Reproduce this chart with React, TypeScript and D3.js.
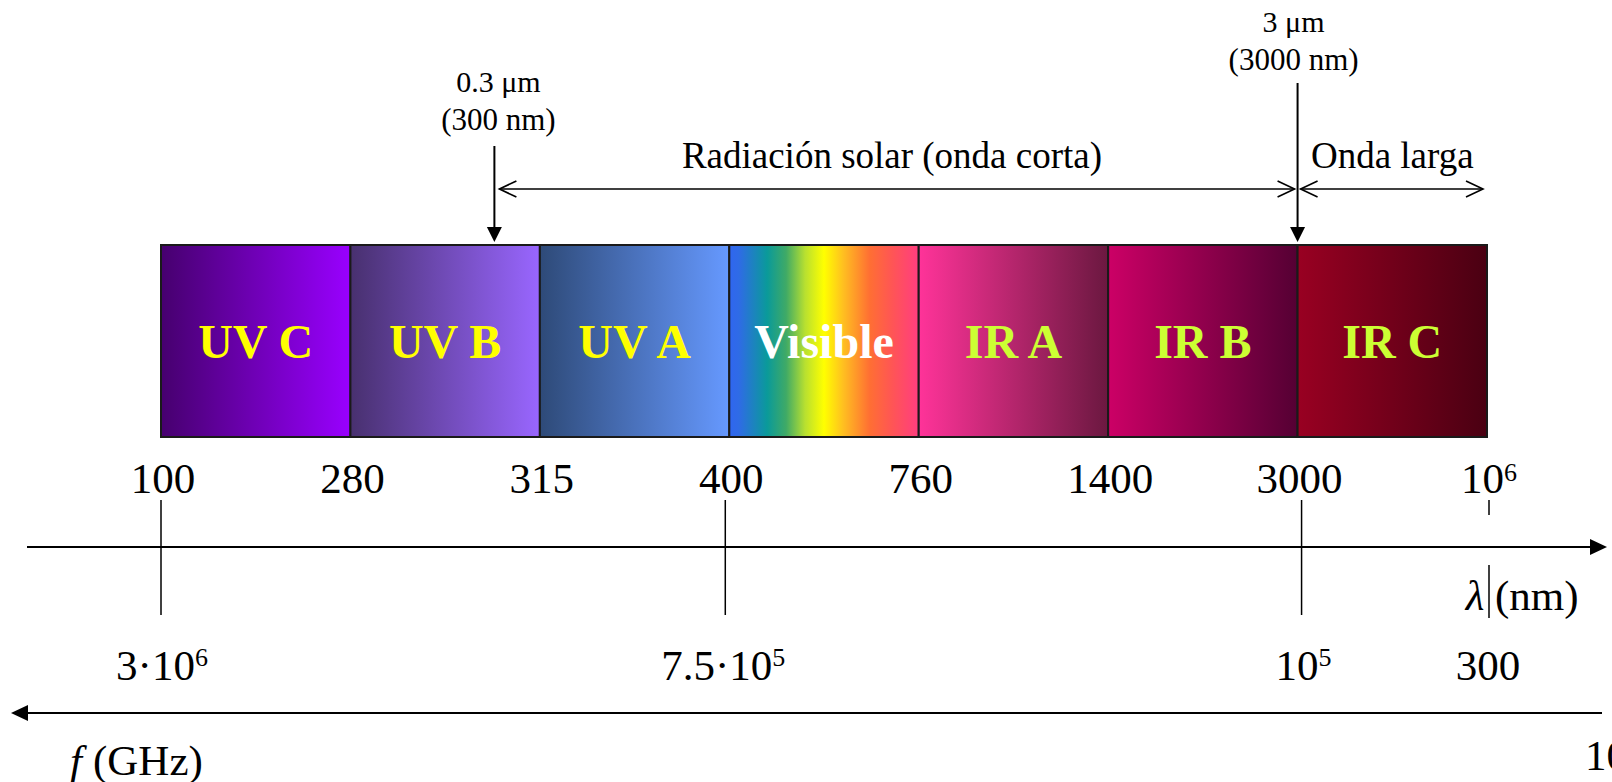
import React from "react";
import * as d3 from "d3";

// ---------- data ----------
const BANDS = ["UV C", "UV B", "UV A", "Visible", "IR A", "IR B", "IR C"];
const BAND_TEXT_COLORS = ["#FFFF00", "#FFFF00", "#FFFF00", "#FFFFFF", "#CCFF33", "#CCFF33", "#CCFF33"];
const BAND_GRADIENT_STOPS: [number, string][][] = [
  [[0, "#46006E"], [1, "#9900FF"]],
  [[0, "#48306F"], [1, "#9966FF"]],
  [[0, "#2E4A78"], [1, "#6699FF"]],
  [
    [0, "#2F66F0"], [0.05, "#2F6BE6"], [0.2, "#0A9A9A"], [0.3, "#3FAA66"], [0.4, "#B8E030"],
    [0.5, "#FFFF00"], [0.6, "#FFC020"], [0.74, "#FF6F33"], [0.86, "#FF5555"], [1, "#FF3D80"],
  ],
  [[0, "#FF3399"], [1, "#6B1840"]],
  [[0, "#CC0066"], [1, "#550033"]],
  [[0, "#990022"], [1, "#4A0012"]],
];
const WAVELENGTH_LABELS = ["100", "280", "315", "400", "760", "1400", "3000", "10^6"];
const FREQ_BOUNDARY_INDEX = [0, 3, 6, 7];
const FREQ_LABELS = ["3·10^6", "7.5·10^5", "10^5", "300"];
// annotations above the bar: boundary position expressed as band index + fraction
const ANNOT_POS = [1.76, 6];
const ANNOT_TOP = ["0.3 μm", "3 μm"];
const ANNOT_SUB = ["(300 nm)", "(3000 nm)"];
const RANGE_LABELS = ["Radiación solar (onda corta)", "Onda larga"];

// ---------- layout ----------
const W = 1612;
const H = 782;
const BAR_X0 = 161;
const BAR_X1 = 1487;
const BAR_Y0 = 245;
const BAR_Y1 = 437;
const AXIS_Y = 547;
const FAXIS_Y = 713;
const SERIF = "'Liberation Serif', 'Times New Roman', Times, serif";

const band = d3.scaleBand<string>().domain(BANDS).range([BAR_X0, BAR_X1]).padding(0);
const boundary = d3.scaleLinear().domain([0, BANDS.length]).range([BAR_X0, BAR_X1]);

function Label({ text, x, y, size, supSize, supDy }: { text: string; x: number; y: number; size: number; supSize: number; supDy: number }) {
  const [base, sup] = text.split("^");
  return (
    <text x={x} y={y} textAnchor="middle" fontFamily={SERIF} fontSize={size} fill="#000">
      {base}
      {sup !== undefined && (
        <tspan fontSize={supSize} dy={supDy}>
          {sup}
        </tspan>
      )}
    </text>
  );
}

function DoubleArrow({ x0, x1, y }: { x0: number; x1: number; y: number }) {
  const hl = 17;
  const hh = 8;
  return (
    <g stroke="#000" strokeWidth={1.6} fill="none">
      <line x1={x0} y1={y} x2={x1} y2={y} />
      <polyline points={`${x0 + hl},${y - hh} ${x0},${y} ${x0 + hl},${y + hh}`} />
      <polyline points={`${x1 - hl},${y - hh} ${x1},${y} ${x1 - hl},${y + hh}`} />
    </g>
  );
}

export default function App() {
  const bw = band.bandwidth();
  const annotX = ANNOT_POS.map((p) => boundary(p));
  const annotTextDx = [4, -4];
  const annotTopY = [92, 32];
  const annotSubY = [130, 70];
  const annotLineY0 = [146, 83];
  const arrowTipY = BAR_Y0 - 3;
  const lastTickX = boundary(BANDS.length) + 2;

  return (
    <svg
      width={W}
      height={H}
      viewBox={`0 0 ${W} ${H}`}
      style={{ position: "absolute", left: 0, top: 0, display: "block", background: "#fff" }}
    >
      <defs>
        {BAND_GRADIENT_STOPS.map((stops, i) => (
          <linearGradient key={i} id={`band-grad-${i}`} x1="0" y1="0" x2="1" y2="0">
            {stops.map(([o, c], j) => (
              <stop key={j} offset={o} stopColor={c} />
            ))}
          </linearGradient>
        ))}
      </defs>

      {/* bar segments */}
      {BANDS.map((b, i) => (
        <g key={b}>
          <rect
            x={band(b)}
            y={BAR_Y0}
            width={bw}
            height={BAR_Y1 - BAR_Y0}
            fill={`url(#band-grad-${i})`}
            stroke="#1a1a1a"
            strokeWidth={2}
          />
          <text
            x={(band(b) as number) + bw / 2}
            y={358}
            textAnchor="middle"
            fontFamily={SERIF}
            fontWeight="bold"
            fontSize={48}
            fill={BAND_TEXT_COLORS[i]}
          >
            {b}
          </text>
        </g>
      ))}

      {/* annotations above bar */}
      {ANNOT_TOP.map((t, i) => (
        <g key={t}>
          <text x={annotX[i] + annotTextDx[i]} y={annotTopY[i]} textAnchor="middle" fontFamily={SERIF} fontSize={30}>
            {t}
          </text>
          <text x={annotX[i] + annotTextDx[i]} y={annotSubY[i]} textAnchor="middle" fontFamily={SERIF} fontSize={31}>
            {ANNOT_SUB[i]}
          </text>
          <line x1={annotX[i]} y1={annotLineY0[i]} x2={annotX[i]} y2={arrowTipY - 12} stroke="#000" strokeWidth={2} />
          <polygon
            points={`${annotX[i] - 7.5},${arrowTipY - 15} ${annotX[i] + 7.5},${arrowTipY - 15} ${annotX[i]},${arrowTipY}`}
            fill="#000"
          />
        </g>
      ))}

      {/* range arrows */}
      <DoubleArrow x0={annotX[0] + 5} x1={annotX[1] - 3} y={189} />
      <DoubleArrow x0={annotX[1] + 3} x1={BAR_X1 - 4} y={189} />
      <text x={(annotX[0] + annotX[1]) / 2 - 4} y={168} textAnchor="middle" fontFamily={SERIF} fontSize={37}>
        {RANGE_LABELS[0]}
      </text>
      <text x={(annotX[1] + BAR_X1) / 2} y={168} textAnchor="middle" fontFamily={SERIF} fontSize={37}>
        {RANGE_LABELS[1]}
      </text>

      {/* wavelength labels */}
      {WAVELENGTH_LABELS.map((l, i) => (
        <Label key={l} text={l} x={boundary(i) + 2} y={493} size={43} supSize={26} supDy={-12} />
      ))}

      {/* wavelength axis */}
      <line x1={27} y1={AXIS_Y} x2={1592} y2={AXIS_Y} stroke="#000" strokeWidth={2.2} />
      <polygon points={`${1590},${AXIS_Y - 8} ${1607},${AXIS_Y} ${1590},${AXIS_Y + 8}`} fill="#000" />

      {/* tick lines linking wavelength and frequency */}
      {FREQ_BOUNDARY_INDEX.map((bi, i) =>
        bi === BANDS.length ? (
          <g key={i} stroke="#000" strokeWidth={1.5}>
            <line x1={lastTickX} y1={500} x2={lastTickX} y2={515} />
            <line x1={lastTickX} y1={565} x2={lastTickX} y2={618} />
          </g>
        ) : (
          <line key={i} x1={boundary(bi) + (i === 1 ? -4 : i === 2 ? 4 : 0)} y1={500}
            x2={boundary(bi) + (i === 1 ? -4 : i === 2 ? 4 : 0)} y2={615} stroke="#000" strokeWidth={1.5} />
        )
      )}

      {/* λ (nm) */}
      <text x={1475} y={610} textAnchor="middle" fontFamily={SERIF} fontStyle="italic" fontSize={43}>
        λ
      </text>
      <text x={1495} y={610} fontFamily={SERIF} fontSize={43}>
        (nm)
      </text>

      {/* frequency labels */}
      {FREQ_LABELS.map((l, i) => (
        <Label
          key={l}
          text={l}
          x={boundary(FREQ_BOUNDARY_INDEX[i]) + (i === 1 ? -6 : i === 2 ? 6 : 1)}
          y={680}
          size={43}
          supSize={26}
          supDy={-14}
        />
      ))}

      {/* frequency axis (points left) */}
      <line x1={26} y1={FAXIS_Y} x2={1602} y2={FAXIS_Y} stroke="#000" strokeWidth={2.2} />
      <polygon points={`${28},${FAXIS_Y - 8} ${11},${FAXIS_Y} ${28},${FAXIS_Y + 8}`} fill="#000" />

      <text x={70} y={775} fontFamily={SERIF} fontStyle="italic" fontSize={43}>
        f
      </text>
      <text x={93} y={775} fontFamily={SERIF} fontSize={43}>
        (GHz)
      </text>
      <text x={1585} y={770} fontFamily={SERIF} fontSize={43}>
        10
      </text>
    </svg>
  );
}
